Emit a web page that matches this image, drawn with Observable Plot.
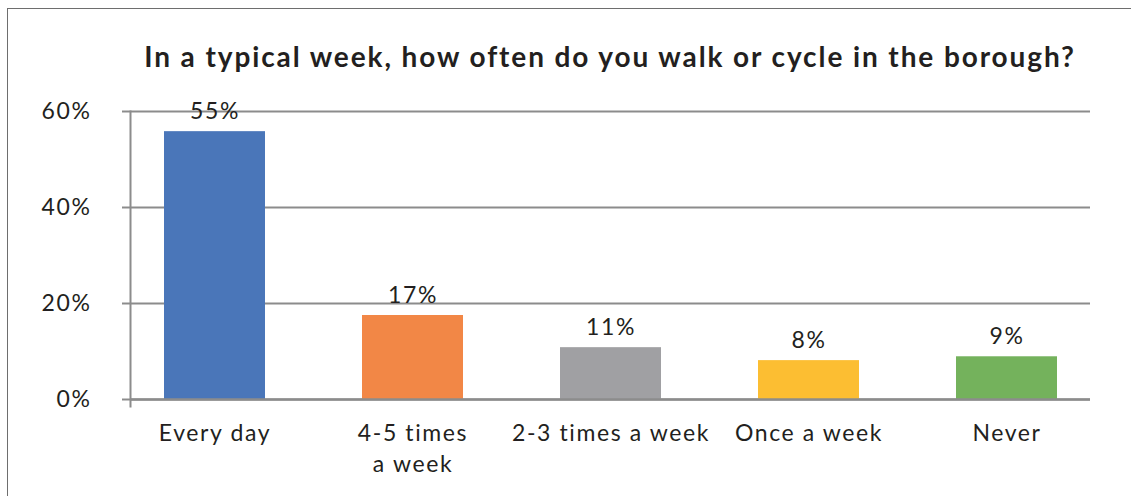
<!DOCTYPE html>
<html>
<head>
<meta charset="utf-8">
<script src="https://cdn.jsdelivr.net/npm/d3@7"></script>
<script src="https://cdn.jsdelivr.net/npm/@observablehq/plot@0.6"></script>
<style>
  html, body { margin: 0; padding: 0; background: #fff; }
  #wrap { position: relative; width: 1131px; height: 496px; overflow: hidden; font-family: Lato, "Noto Sans", sans-serif; }
  #border { position: absolute; left: 7px; top: 8px; width: 1200px; height: 600px; border: 1.5px solid #6e6e6e; box-sizing: border-box; }
  #title { position: absolute; left: 0; width: 1220px; top: 39px; text-align: center; font-size: 28px; font-weight: 700; letter-spacing: 1.9px; color: #231f20; white-space: nowrap; }
  #chart { position: absolute; left: 0; top: 0; }
  #chart svg text { letter-spacing: 1.6px; }
</style>
</head>
<body>
<div id="wrap">
  <div id="border"></div>
  <div id="title">In a typical week, how often do you walk or cycle in the borough?</div>
  <div id="chart"></div>
</div>
<script>
const categories = ["Every day", "4-5 times a week", "2-3 times a week", "Once a week", "Never"];
const axisLabels = ["Every day", "4-5 times\na week", "2-3 times a week", "Once a week", "Never"];
const values = [55.8, 17.5, 10.8, 8.1, 8.9];
const valueLabels = ["55%", "17%", "11%", "8%", "9%"];
const colors = ["#4a76b9", "#f28746", "#a0a0a3", "#fcbe32", "#74b25c"];
const yTicks = [0, 20, 40, 60];
const yTickLabels = ["0%", "20%", "40%", "60%"];

const data = categories.map((c, i) => ({cat: c, value: values[i], label: valueLabels[i], color: colors[i]}));

const chart = Plot.plot({
  width: 1131,
  height: 496,
  marginTop: 111,
  marginBottom: 97,
  marginLeft: 130,
  marginRight: 41,
  style: {fontFamily: "Lato, 'Noto Sans', sans-serif", color: "#231f20", background: "transparent"},
  x: {domain: categories, range: [115, 1105], paddingInner: 0.49, paddingOuter: 0.245},
  y: {domain: [0, 60]},
  marks: [
    Plot.gridY(yTicks, {stroke: "#8c8c8c", strokeOpacity: 1, strokeWidth: 2}),
    Plot.frame({anchor: "left", stroke: "#8c8c8c", strokeWidth: 2, insetBottom: -7}),
    Plot.barY(data, {x: "cat", y: "value", fill: "color"}),
    Plot.ruleY([0], {stroke: "#8c8c8c", strokeWidth: 2.5}),
    Plot.text(data, {x: "cat", y: "value", text: "label", lineAnchor: "bottom", dy: -13, fontSize: 23, fill: "#231f20"}),
    Plot.axisY({ticks: yTicks, tickFormat: (d) => yTickLabels[yTicks.indexOf(d)], tickSize: 8, stroke: "#8c8c8c", strokeWidth: 2, tickPadding: 31, fontSize: 23, fill: "#231f20", label: null}),
    Plot.axisX({tickFormat: (d) => axisLabels[categories.indexOf(d)], tickSize: 0, tickPadding: 19, fontSize: 23, lineHeight: 1.35, fill: "#231f20", label: null})
  ]
});
document.getElementById("chart").appendChild(chart);
</script>
</body>
</html>
